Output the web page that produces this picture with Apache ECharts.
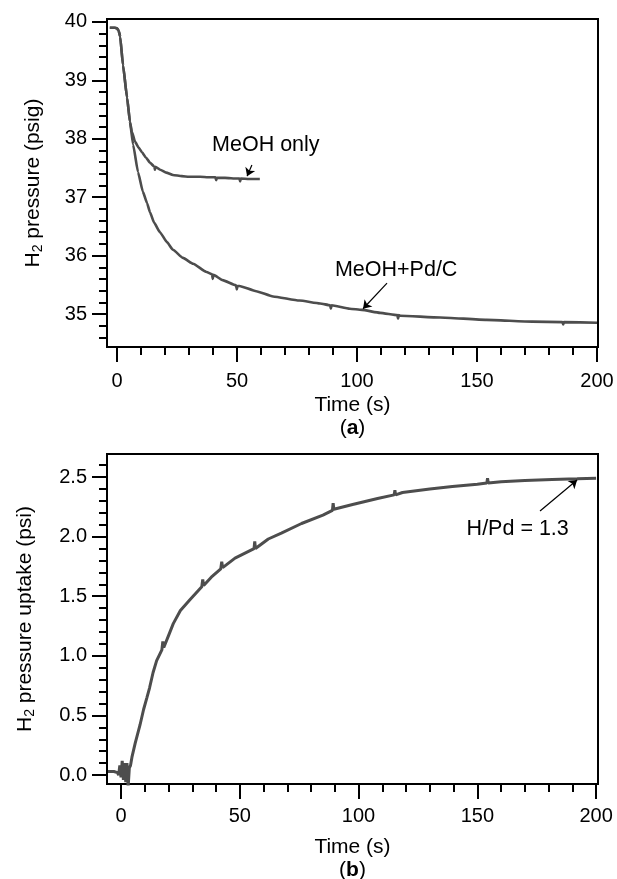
<!DOCTYPE html>
<html><head><meta charset="utf-8">
<script src="https://cdn.jsdelivr.net/npm/echarts@6/dist/echarts.min.js"></script>
<style>html,body{margin:0;padding:0;background:#fff}#c{width:617px;height:879px}</style>
</head><body><div id="c"></div>
<script>
// ---- data ----
const meohOnlyTime = [-3,-1,0,0.7,1.3,2.5,4.2,5.4,6.2,7.5,9,10.4,12,13.75,15.6,15.8,16,18,20.5,23.3,27,30,34.6,38,41,41.3,41.6,45,50,51,51.3,51.6,55,59.5];
const meohOnlyP = [39.9,39.9,39.89,39.85,39.75,39.26,38.7,38.29,38.12,37.95,37.85,37.77,37.68,37.59,37.52,37.47,37.52,37.47,37.42,37.38,37.36,37.35,37.35,37.34,37.34,37.29,37.33,37.33,37.32,37.32,37.27,37.32,37.31,37.31];
const pdTime = [-3,-1,0,0.7,1.3,2.5,4.2,5.4,6.7,8.75,10.8,12.5,13.75,15.5,17.9,20.8,23.3,27.5,31.7,37.3,39.6,39.9,40.2,44,49.6,49.9,50.2,51,58,65,76,84.6,88.8,89.1,89.4,97,102,109.6,116.8,117.1,117.4,118,134.6,154,173,185.6,185.9,186.2,200];
const pdP = [39.9,39.9,39.89,39.85,39.75,39.26,38.7,38.29,37.9,37.43,37.09,36.9,36.74,36.56,36.4,36.23,36.1,35.96,35.86,35.72,35.68,35.6,35.67,35.58,35.49,35.42,35.48,35.48,35.39,35.3,35.23,35.18,35.15,35.09,35.15,35.09,35.07,35.02,34.98,34.92,34.98,34.97,34.94,34.9,34.87,34.86,34.82,34.86,34.85];
const uptakeTime = [-5.5,-3,-1.5,-1,-0.5,0,0.5,1,1.5,2,2.5,3,3.5,4,4.6,6,8,9.5,10.9,12,13.5,15,17.2,17.6,18,20,22,25,29,34,34.4,34.8,38,42,42.4,42.8,48,56,56.3,56.6,62,67.5,76,85,89,89.3,89.6,97.5,108,115,115.3,115.6,118.5,130,139.5,150,154,154.3,154.6,160,170,181.5,192,200];
const uptakeVal = [0.03,0.03,0.02,0.0,0.08,-0.02,0.12,-0.04,0.1,-0.06,0.1,-0.1,0.06,0.08,0.15,0.27,0.42,0.55,0.65,0.73,0.86,0.96,1.05,1.12,1.07,1.17,1.27,1.38,1.47,1.58,1.64,1.59,1.66,1.73,1.79,1.74,1.82,1.9,1.96,1.9,1.98,2.03,2.11,2.18,2.22,2.28,2.23,2.27,2.32,2.35,2.39,2.35,2.37,2.40,2.42,2.44,2.45,2.49,2.45,2.46,2.47,2.48,2.485,2.49];

const xMajorTicks = [0,50,100,150,200];
const xMinorTicks = [10,20,30,40,60,70,80,90,110,120,130,140,160,170,180,190];
const topYMajor = [35,36,37,38,39,40];
const topYMinor = [34.6,34.8,35.2,35.4,35.6,35.8,36.2,36.4,36.6,36.8,37.2,37.4,37.6,37.8,38.2,38.4,38.6,38.8,39.2,39.4,39.6,39.8];
const botYMajor = [0,0.5,1,1.5,2,2.5];
const botYMinor = [0.1,0.2,0.3,0.4,0.6,0.7,0.8,0.9,1.1,1.2,1.3,1.4,1.6,1.7,1.8,1.9,2.1,2.2,2.3,2.4,2.6];

const FONT = "'Liberation Sans', Arial, Helvetica, sans-serif";
const zip = (a, b) => a.map((v, i) => [v, b[i]]);
const fmt = v => (Number.isInteger(v) ? String(v) : v.toFixed(1));

const richName = {
  n: {fontSize: 21, fontFamily: FONT, color: '#000', lineHeight: 23},
  b: {fontSize: 21, fontFamily: FONT, color: '#000', fontWeight: 'bold', lineHeight: 23},
  s: {fontSize: 14, fontFamily: FONT, color: '#000', padding: [10, 0, 0, 0], lineHeight: 23}
};

function xPair(grid, min, max, name, gap, labelMargin) {
  return [{
    type: 'value', gridIndex: grid, position: 'bottom', min, max,
    axisLine: {show: true, onZero: false, lineStyle: {color: '#000', width: 2}},
    axisTick: {show: true, customValues: xMajorTicks, length: 15, lineStyle: {color: '#000', width: 2}},
    axisLabel: {customValues: xMajorTicks, margin: labelMargin, fontSize: 20, fontFamily: FONT, color: '#000', formatter: fmt},
    splitLine: {show: false},
    name, nameLocation: 'middle', nameGap: gap, nameTextStyle: {rich: richName, align: 'center'}
  }, {
    type: 'value', gridIndex: grid, position: 'bottom', min, max,
    axisLine: {show: false, onZero: false},
    axisTick: {show: true, customValues: xMinorTicks, length: 8, lineStyle: {color: '#000', width: 2}},
    axisLabel: {show: false}, splitLine: {show: false}
  }];
}
function yPair(grid, min, max, major, minor, name, gap) {
  return [{
    type: 'value', gridIndex: grid, position: 'left', min, max,
    axisLine: {show: true, onZero: false, lineStyle: {color: '#000', width: 2}},
    axisTick: {show: true, customValues: major, length: 15, lineStyle: {color: '#000', width: 2}},
    axisLabel: {customValues: major, margin: 20, fontSize: 20, fontFamily: FONT, color: '#000', formatter: grid === 0 ? (v => String(v)) : (v => v.toFixed(1))},
    splitLine: {show: false},
    name, nameLocation: 'middle', nameGap: gap, nameRotate: 90, nameTextStyle: {rich: richName}
  }, {
    type: 'value', gridIndex: grid, position: 'left', min, max,
    axisLine: {show: false, onZero: false},
    axisTick: {show: true, customValues: minor, length: 8, lineStyle: {color: '#000', width: 2}},
    axisLabel: {show: false}, splitLine: {show: false}
  }];
}

const arrowStyle = {color: '#000', width: 1.2, type: 'solid'};
function arrow(from, to) {
  return {silent: true, animation: false, symbol: ['none', 'arrow'], symbolSize: 8, lineStyle: arrowStyle,
    label: {show: false}, data: [[{coord: from}, {coord: to}]]};
}
function note(coord, text) {
  return {silent: true, animation: false, symbol: 'circle', symbolSize: 1, itemStyle: {color: 'rgba(0,0,0,0)'},
    label: {show: true, position: 'inside', formatter: text, fontSize: 21.5, fontFamily: FONT, color: '#000'},
    data: [{coord}]};
}

const lineColor = '#4d4d4d';
const option = {
  backgroundColor: '#fff',
  animation: false,
  grid: [
    {left: 107, top: 19, width: 491, height: 328, outerBoundsMode: 'none', containLabel: false, show: true, borderColor: '#000', borderWidth: 2, backgroundColor: 'transparent'},
    {left: 107, top: 454, width: 491, height: 330, outerBoundsMode: 'none', containLabel: false, show: true, borderColor: '#000', borderWidth: 2, backgroundColor: 'transparent'}
  ],
  xAxis: [
    ...xPair(0, -4.17, 200.4, '{n|Time (s)}\n{n|(}{b|a}{n|)}', 47, 24),
    ...xPair(1, -5.9, 200.8, '{n|Time (s)}\n{n|(}{b|b}{n|)}', 52, 22)
  ],
  yAxis: [
    ...yPair(0, 34.435, 40.05, topYMajor, topYMinor, '{n|H}{s|2}{n| pressure (psig)}', 62),
    ...yPair(1, -0.075, 2.693, botYMajor, botYMinor, '{n|H}{s|2}{n| pressure uptake (psi)}', 70)
  ],
  series: [
    {type: 'line', xAxisIndex: 0, yAxisIndex: 0, data: zip(meohOnlyTime, meohOnlyP), showSymbol: false,
     smooth: 0.15, smoothMonotone: 'x',
     lineStyle: {color: lineColor, width: 2.6}, z: 3,
     markLine: arrow([56.2, 37.55], [54.2, 37.36]), markPoint: note([62, 37.89], 'MeOH only')},
    {type: 'line', xAxisIndex: 0, yAxisIndex: 0, data: zip(pdTime, pdP), showSymbol: false,
     smooth: 0.15, smoothMonotone: 'x',
     lineStyle: {color: lineColor, width: 2.6}, z: 3,
     markLine: arrow([112.5, 35.53], [102.5, 35.09]), markPoint: note([116.3, 35.75], 'MeOH+Pd/C')},
    {type: 'line', xAxisIndex: 2, yAxisIndex: 2, data: zip(uptakeTime, uptakeVal), showSymbol: false,
     lineStyle: {color: lineColor, width: 3}, z: 3,
     markLine: arrow([176.4, 2.215], [192, 2.475]), markPoint: note([167, 2.06], 'H/Pd = 1.3')}
  ]
};
const chart = echarts.init(document.getElementById('c'), null, {renderer: 'canvas'});
chart.setOption(option);
</script></body></html>
